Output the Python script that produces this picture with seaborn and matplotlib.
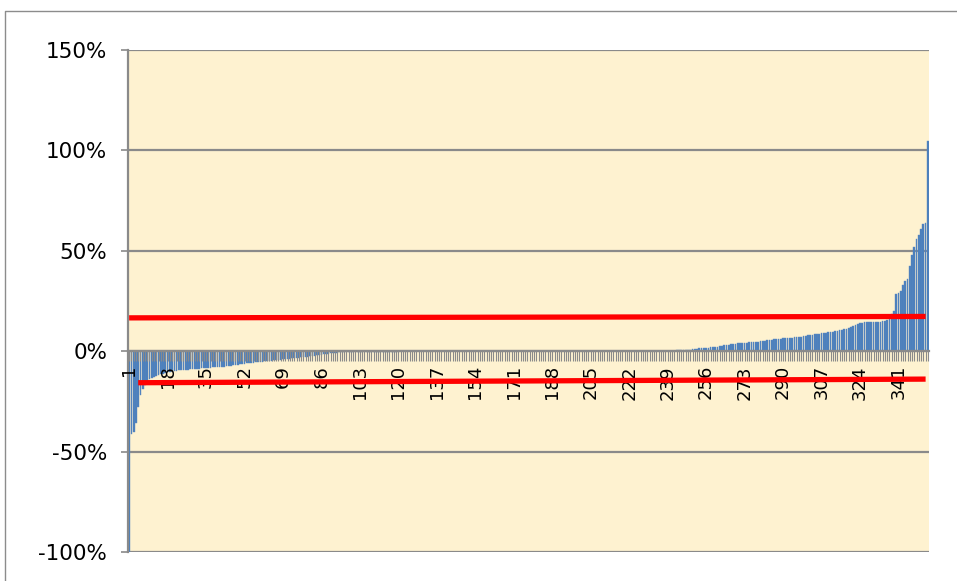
import pandas as pd
import matplotlib.pyplot as plt
from matplotlib.lines import Line2D
import seaborn as sns

sns.set_style('white')
plt.rcParams['font.family'] = ['DejaVu Sans']

# sorted changes in percent
neg_tail = [-100, -41, -40, -36, -28, -22, -19, -17, -15, -14]
neg_body = [
    -13.5, -13.0, -12.5, -12.0, -11.6, -11.2, -10.9, -10.6, -10.3, -10.1,
    -9.9, -9.8, -9.6, -9.5, -9.4, -9.3, -9.2, -9.1, -9.0, -8.9,
    -8.8, -8.7, -8.6, -8.5, -8.4, -8.3, -8.2, -8.1, -8.0, -8.0,
    -7.9, -7.8, -7.7, -7.6, -7.4, -7.2, -7.0, -6.9, -6.7, -6.5,
    -6.4, -6.2, -6.1, -6.0, -5.9, -5.7, -5.6, -5.4, -5.3, -5.2,
    -5.1, -5.0, -4.9, -4.7, -4.6, -4.5, -4.3, -4.2, -4.0, -3.9,
    -3.8, -3.7, -3.5, -3.4, -3.3, -3.2, -3.0, -2.9, -2.8, -2.7,
    -2.5, -2.4, -2.2, -2.1, -2.0, -1.8, -1.6, -1.4, -1.2, -1.0,
    -0.9, -0.8, -0.7, -0.6, -0.5, -0.5, -0.4, -0.4, -0.3, -0.3,
]
flat = [
    -0.2, -0.2, -0.2, -0.2, -0.2, -0.2, -0.2, -0.2, -0.2, -0.2,
    -0.2, -0.2, -0.2, -0.2, -0.2, -0.2, -0.2, -0.2, -0.2, -0.2,
    -0.1, -0.1, -0.1, -0.1, -0.1, -0.1, -0.1, -0.1, -0.1, -0.1,
    -0.1, -0.1, -0.1, -0.1, -0.1, -0.1, -0.1, -0.1, -0.1, -0.1,
    -0.1, -0.1, -0.1, -0.1, -0.1, -0.1, -0.1, -0.1, -0.1, -0.1,
    0.0, 0.0, 0.0, 0.0, 0.0, 0.0, 0.0, 0.0, 0.0, 0.0,
    0.0, 0.0, 0.0, 0.0, 0.0, 0.0, 0.0, 0.0, 0.0, 0.0,
    0.0, 0.0, 0.0, 0.0, 0.0, 0.0, 0.0, 0.0, 0.0, 0.0,
    0.0, 0.0, 0.0, 0.0, 0.0, 0.0, 0.0, 0.0, 0.0, 0.0,
    0.1, 0.1, 0.1, 0.1, 0.1, 0.1, 0.1, 0.1, 0.1, 0.1,
    0.1, 0.1, 0.1, 0.1, 0.1, 0.1, 0.1, 0.1, 0.1, 0.1,
    0.1, 0.1, 0.1, 0.1, 0.1, 0.1, 0.1, 0.1, 0.1, 0.1,
    0.2, 0.2, 0.2, 0.2, 0.2, 0.2, 0.2, 0.2, 0.2, 0.2,
    0.2, 0.2, 0.2, 0.2, 0.2, 0.2, 0.2, 0.2, 0.2, 0.2,
]
pos_body = [
    0.3, 0.3, 0.4, 0.4, 0.5, 0.5, 0.6, 0.7, 0.8, 0.9,
    1.0, 1.2, 1.4, 1.5, 1.6, 1.7, 1.8, 1.9, 2.0, 2.1,
    2.3, 2.5, 2.7, 2.9, 3.0, 3.2, 3.4, 3.6, 3.8, 3.9,
    4.0, 4.1, 4.2, 4.3, 4.4, 4.5, 4.6, 4.7, 4.8, 5.0,
    5.1, 5.3, 5.5, 5.6, 5.8, 5.9, 6.0, 6.1, 6.2, 6.4,
    6.5, 6.6, 6.7, 6.8, 6.9, 7.0, 7.1, 7.3, 7.5, 7.7,
    7.9, 8.0, 8.2, 8.4, 8.6, 8.8, 8.9, 9.0, 9.2, 9.4,
    9.6, 9.8, 10.0, 10.2, 10.4, 10.6, 10.9, 11.2, 11.6, 12.0,
    12.5, 13.0, 13.5, 14.0, 14.2, 14.3, 14.3, 14.4, 14.4, 14.5,
    14.5, 14.6, 14.7, 14.9, 15.1, 15.3, 16.0, 18.6, 20.0, 28.5,
]
pos_tail = [29.0, 30.0, 33.0, 35.0, 36.0, 42.6, 48.0, 52.0, 56.0, 58.0,
            61.0, 63.5, 64.0, 104.5]

# the two red reference lines: category where each starts/ends and its level
upper_cats = [1, 353]
upper_vals = [16.6, 17.3]
lower_cats = [5, 353]
lower_vals = [-15.7, -13.9]

label_cats = [1, 18, 35, 52, 69, 86, 103, 120, 137, 154, 171, 188, 205,
              222, 239, 256, 273, 290, 307, 324, 341]
y_ticks = [-100, -50, 0, 50, 100, 150]
y_labels = ['-100%', '-50%', '0%', '50%', '100%', '150%']

values = neg_tail + neg_body + flat + pos_body + pos_tail
df = pd.DataFrame({'cat': range(1, len(values) + 1), 'pct': values})

fig = plt.figure(figsize=(9.57, 5.81), dpi=100)
ax = fig.add_axes([128 / 957, 1 - 552 / 581, 801 / 957, 502 / 581])
ax.set_facecolor('#FEF2D0')

sns.barplot(data=df, x='cat', y='pct', color='#4A7EBB', saturation=1,
            width=0.75, errorbar=None, ax=ax, zorder=2,
            edgecolor='#5B8AC4', linewidth=0.3)

# category n sits at position n - 1
ax.plot([c - 1 for c in upper_cats], upper_vals, color='#FF0000', lw=3.8,
        solid_capstyle='butt', zorder=4)
ax.plot([c - 1 for c in lower_cats], lower_vals, color='#FF0000', lw=3.8,
        solid_capstyle='butt', zorder=4)

ax.set_xlim(-0.5, len(values) - 0.5)
ax.set_ylim(-100, 150)
ax.set_yticks(y_ticks)
ax.set_yticklabels(y_labels)
ax.set_xticks([c - 1 for c in label_cats])
ax.set_xticklabels([str(c) for c in label_cats])
ax.set_xticks(range(len(values)), minor=True)
ax.set_xlabel('')
ax.set_ylabel('')

ax.grid(axis='y', color='#8A8A8A', lw=1.6, zorder=1)
ax.set_axisbelow(True)
# category axis (ticks and labels) sits on top of the bars, grid stays below
ax.xaxis.set_zorder(3.5)

for side in ['right', 'top']:
    ax.spines[side].set_visible(False)
ax.spines['bottom'].set_position(('data', 0))
ax.spines['bottom'].set_color('#8A8A8A')
ax.spines['bottom'].set_linewidth(1.6)
ax.spines['bottom'].set_zorder(3)
ax.spines['left'].set_color('#8A8A8A')
ax.spines['left'].set_linewidth(1.6)

ax.tick_params(axis='x', which='both', bottom=True, direction='out',
               length=7, width=0.8, color='#8A8A8A', labelsize=13, pad=3,
               labelrotation=90, labelcolor='black')
ax.tick_params(axis='y', left=True, direction='out', length=5, width=1.2,
               color='#8A8A8A', labelsize=15.5, pad=10, labelcolor='black')

# chart area border, cut off at the right and bottom
fig.add_artist(Line2D([5 / 957, 5 / 957, 1.0], [0.0, 1 - 11 / 581, 1 - 11 / 581],
                      color='#8C8C8C', lw=1.0))

plt.savefig('out.png', dpi=100)
